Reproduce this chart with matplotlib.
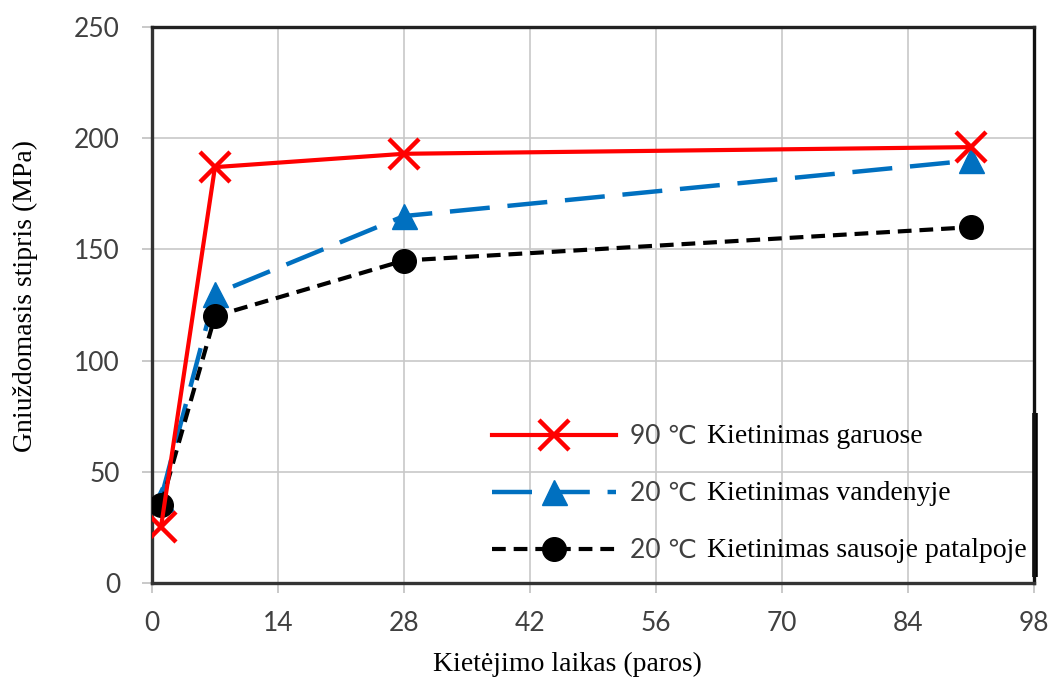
import matplotlib
matplotlib.use('Agg')
import matplotlib.pyplot as plt

# Compressive strength vs curing time
days = [1, 7, 28, 91]
steam_90 = [25, 187, 193, 196]
water_20 = [38, 130, 165, 190]
dry_room_20 = [35, 120, 145, 160]

temps = ['90 ℃', '20 ℃', '20 ℃']
methods = ['Kietinimas garuose', 'Kietinimas vandenyje', 'Kietinimas sausoje patalpoje']

x_ticks = [0, 14, 28, 42, 56, 70, 84, 98]
y_ticks = [0, 50, 100, 150, 200, 250]

sans = ['Lato', 'DejaVu Sans']
serif = ['Liberation Serif', 'DejaVu Serif']
tick_col = '#404040'

fig = plt.figure(figsize=(10.53, 6.77), dpi=100)
ax = fig.add_axes([0.1443, 0.1388, 0.8377, 0.8213])

l_blue, = ax.plot(days, water_20, color='#0070c0', lw=3.2, dashes=(9, 4),
                  marker='^', ms=18, zorder=3)
l_black, = ax.plot(days, dry_room_20, color='black', lw=3.0, dashes=(3.3, 1.9),
                   marker='o', ms=17, zorder=4)
l_red, = ax.plot(days, steam_90, color='#ff0000', lw=3.0,
                 marker='x', ms=21, mew=3.2, zorder=5)

ax.set_xlim(0, 98)
ax.set_ylim(0, 250)
ax.set_xticks(x_ticks)
ax.set_yticks(y_ticks)
ax.grid(True, color='#c8c8c8', lw=1.2)
ax.set_axisbelow(True)

ax.tick_params(axis='both', direction='out', length=7, width=1.2, color='#c0c0c0',
               labelcolor=tick_col, labelsize=19)
ax.tick_params(axis='y', pad=16)
ax.tick_params(axis='x', pad=13)
for lab in ax.get_xticklabels() + ax.get_yticklabels():
    lab.set_family(sans)

for side in ['left', 'bottom', 'top', 'right']:
    ax.spines[side].set_linewidth(2.4)
    ax.spines[side].set_color('#333333')
ax.spines['top'].set_color('#222222')
ax.spines['right'].set_color('#111111')

ax.set_xlabel('Kietėjimo laikas (paros)', family=serif, fontsize=20)
ax.set_ylabel('Gniuždomasis stipris (MPa)', family=serif, fontsize=20)
ax.xaxis.set_label_coords(0.4705, -0.124)
ax.yaxis.set_label_coords(-0.129, 0.516)

# thick edge on the lower part of the right border
ax.plot([1.001, 1.001], [0.01, 0.305], transform=ax.transAxes, color='black',
        lw=4, clip_on=False, solid_capstyle='butt')

leg = ax.legend([l_red, l_blue, l_black], temps, loc='upper left',
                bbox_to_anchor=(0.37, 0.31), frameon=False, borderpad=0,
                handlelength=4.7, handletextpad=0.55, labelspacing=1.22,
                prop={'family': sans, 'size': 19})
for t in leg.get_texts():
    t.set_color(tick_col)

# serif part of each legend entry, placed right after the temperature
fig.canvas.draw()
inv = fig.transFigure.inverted()
for t, m in zip(leg.get_texts(), methods):
    bb = t.get_window_extent()
    x0, y0 = inv.transform((bb.x1 + 10, (bb.y0 + bb.y1) / 2))
    fig.text(x0, y0, m, family=serif, fontsize=20, color='black',
             ha='left', va='center')

fig.savefig('out.png', dpi=100)
